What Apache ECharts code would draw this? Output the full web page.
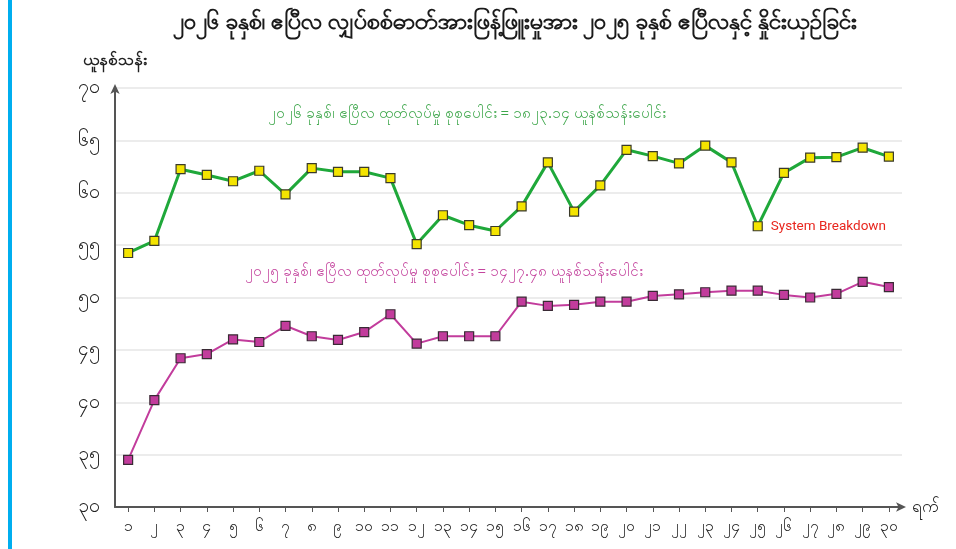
<!DOCTYPE html>
<html>
<head>
<meta charset="utf-8">
<script src="https://cdn.jsdelivr.net/npm/echarts@6/dist/echarts.min.js"></script>
<style>
  html, body { margin: 0; padding: 0; background: #fff; }
  #chart { width: 956px; height: 549px; }
  .side-bar { position: absolute; left: 8px; top: 0; width: 4px; height: 549px; background: #00aeef; }
</style>
</head>
<body>
<div class="side-bar"></div>
<div id="chart"></div>
<script>
// Days of April (Myanmar numerals)
const days = ['၁','၂','၃','၄','၅','၆','၇','၈','၉','၁၀','၁၁','၁၂','၁၃','၁၄','၁၅',
              '၁၆','၁၇','၁၈','၁၉','၂၀','၂၁','၂၂','၂၃','၂၄','၂၅','၂၆','၂၇','၂၈','၂၉','၃၀'];

// April 2026 daily generation (million units)
const gen2026 = [54.25, 55.4, 62.25, 61.7, 61.1, 62.1, 59.85, 62.35, 62.0, 62.0,
                 61.4, 55.1, 57.85, 56.9, 56.35, 58.7, 62.9, 58.2, 60.7, 64.1,
                 63.5, 62.8, 64.5, 62.9, 56.8, 61.9, 63.35, 63.4, 64.3, 63.45];

// April 2025 daily generation (million units)
const gen2025 = [34.5, 40.2, 44.2, 44.6, 46.0, 45.75, 47.3, 46.3, 45.95, 46.7,
                 48.4, 45.6, 46.3, 46.3, 46.3, 49.6, 49.2, 49.3, 49.6, 49.6,
                 50.15, 50.3, 50.5, 50.65, 50.65, 50.25, 50.0, 50.35, 51.5, 51.0];

// y-axis tick labels in Myanmar numerals
const yTickLabels = { 30: '၃၀', 35: '၃၅', 40: '၄၀', 45: '၄၅', 50: '၅၀', 55: '၅၅', 60: '၆၀', 65: '၆၅', 70: '၇၀' };

const breakdownDay = 24; // index of the "System Breakdown" point

const titleText = '၂၀၂၆ ခုနှစ်၊ ဧပြီလ လျှပ်စစ်ဓာတ်အားဖြန့်ဖြူးမှုအား ၂၀၂၅ ခုနှစ် ဧပြီလနှင့် နှိုင်းယှဉ်ခြင်း';
const note2026 = '၂၀၂၆ ခုနှစ်၊ ဧပြီလ ထုတ်လုပ်မှု စုစုပေါင်း = ၁၈၂၃.၁၄ ယူနစ်သန်းပေါင်း';
const note2025 = '၂၀၂၅ ခုနှစ်၊ ဧပြီလ ထုတ်လုပ်မှု စုစုပေါင်း = ၁၄၂၇.၄၈ ယူနစ်သန်းပေါင်း';

const FONT = '"Noto Sans", "DejaVu Sans", sans-serif';

const chart = echarts.init(document.getElementById('chart'));

chart.setOption({
    animation: false,
    backgroundColor: 'transparent',
    title: {
        text: titleText,
        left: 510,
        top: 6,
        textAlign: 'center',
        textStyle: { fontFamily: FONT, fontSize: 23, fontWeight: 'bold', color: '#1a1a1a' }
    },
    grid: { left: 115, right: 54, top: 88, bottom: 42, containLabel: false },
    xAxis: {
        type: 'category',
        data: days,
        boundaryGap: true,
        name: 'ရက်',
        nameLocation: 'end',
        nameGap: 10,
        nameTextStyle: { fontFamily: FONT, fontSize: 18, color: '#222', verticalAlign: 'middle' },
        axisLine: { lineStyle: { color: '#555', width: 2 }, symbol: ['none', 'arrow'], symbolSize: [7, 10], symbolOffset: [0, 4] },
        axisTick: { show: true, alignWithLabel: true, length: 5, lineStyle: { color: '#555' } },
        axisLabel: { fontFamily: FONT, fontSize: 16, color: '#222', margin: 11, interval: 0 },
        splitLine: { show: false }
    },
    yAxis: {
        type: 'value',
        min: 30,
        max: 70,
        interval: 5,
        name: 'ယူနစ်သန်း',
        nameLocation: 'end',
        nameGap: 20,
        nameTextStyle: { fontFamily: FONT, fontSize: 16, fontWeight: 'bold', color: '#222', align: 'center' },
        axisLine: { show: true, lineStyle: { color: '#555', width: 2 }, symbol: ['none', 'arrow'], symbolSize: [7, 10], symbolOffset: [0, 4] },
        axisTick: { show: false },
        axisLabel: {
            fontFamily: FONT, fontSize: 19, color: '#222', margin: 15,
            formatter: v => yTickLabels[v] || ''
        },
        splitLine: { show: true, lineStyle: { color: '#e6e6e6', width: 1.5 } }
    },
    series: [
        {
            name: '2026',
            type: 'line',
            data: gen2026.map((v, i) => i === breakdownDay ? {
                value: v,
                label: {
                    show: true, position: 'right', distance: 8,
                    formatter: 'System Breakdown',
                    fontFamily: 'Roboto, "Open Sans", sans-serif', fontSize: 13.5, color: '#e8261e'
                }
            } : v),
            symbol: 'rect',
            symbolSize: 9,
            lineStyle: { color: '#1fa83a', width: 3 },
            itemStyle: { color: '#f4e400', borderColor: '#3a3a2a', borderWidth: 1.2 },
            z: 3
        },
        {
            name: '2025',
            type: 'line',
            data: gen2025,
            symbol: 'rect',
            symbolSize: 9,
            lineStyle: { color: '#c23c9c', width: 2 },
            itemStyle: { color: '#c23c9c', borderColor: '#3a2a35', borderWidth: 1.2 },
            z: 3
        }
    ],
    graphic: [
        {
            type: 'text', left: 268, top: 106,
            style: { text: note2026, fill: '#3da64a', font: '15px ' + FONT }
        },
        {
            type: 'text', left: 245, top: 264,
            style: { text: note2025, fill: '#c4449e', font: '15px ' + FONT }
        }
    ]
});
</script>
</body>
</html>
